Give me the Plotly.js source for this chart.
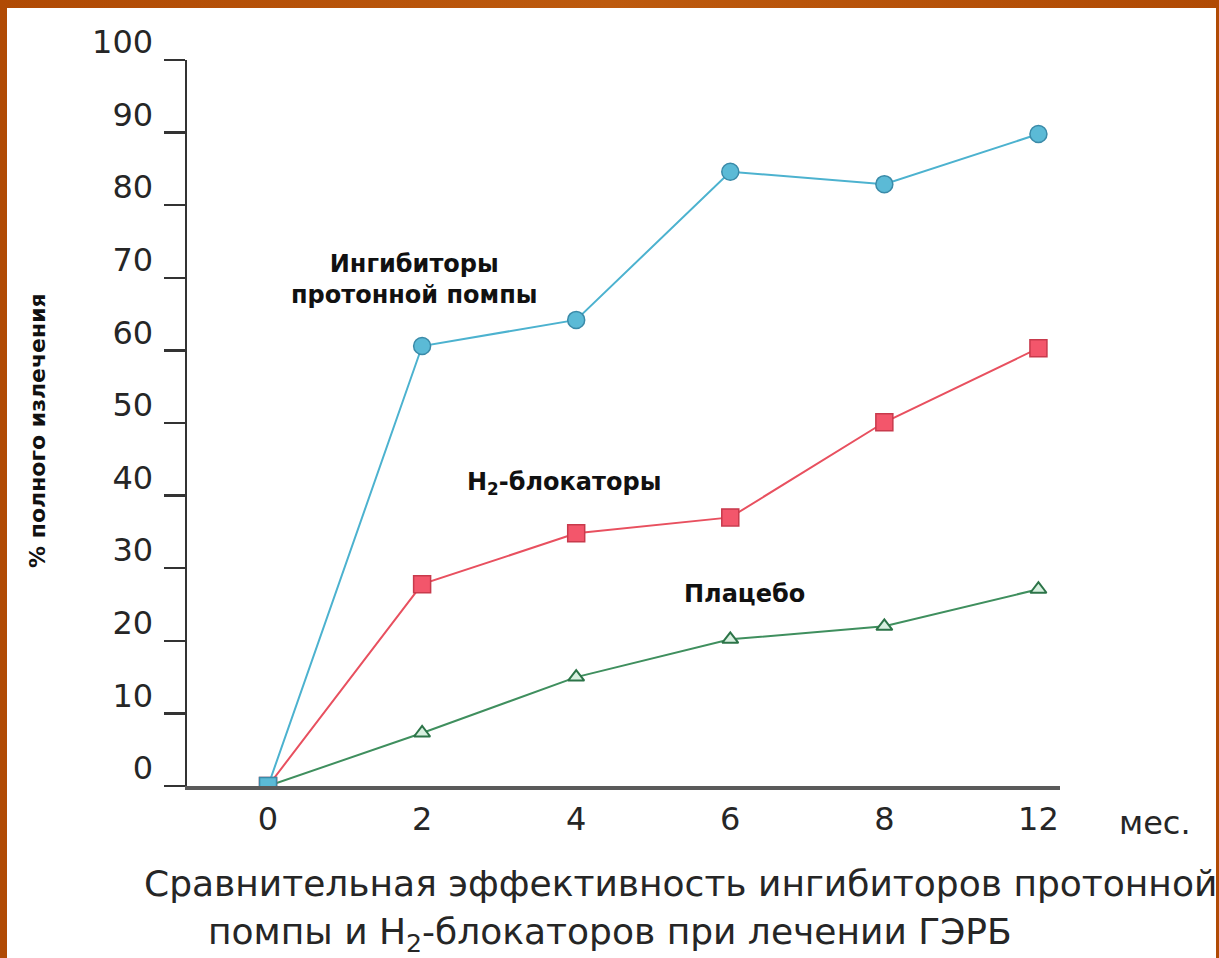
<!DOCTYPE html>
<html>
<head>
<meta charset="utf-8">
<script src="https://cdn.plot.ly/plotly-3.0.1.min.js"></script>
<style>
  html, body { margin:0; padding:0; width:1219px; height:958px; overflow:hidden;
    background: linear-gradient(90deg, #b04a04 0%, #bd5a0e 50%, #b04a04 100%); }
  #chart { position:absolute; left:7px; top:8px; width:1209px; height:950px; }
</style>
</head>
<body>
<div id="chart"></div>
<script>
// ---- data ----
const months = ['0', '2', '4', '6', '8', '12'];
const ppiValues = [0, 60.6, 64.2, 84.6, 82.9, 89.8];      // Ингибиторы протонной помпы
const h2Values = [0, 27.8, 34.8, 37.0, 50.1, 60.3];       // H2-блокаторы
const placeboValues = [0, 7.3, 15.0, 20.2, 22.0, 27.1];   // Плацебо
const yTickValues = [0, 10, 20, 30, 40, 50, 60, 70, 80, 90, 100];
const yTickLabels = ['0', '10', '20', '30', '40', '50', '60', '70', '80', '90', '100'];

const seriesLabels = ['Ингибиторы<br>протонной помпы', 'H<sub>2</sub>-блокаторы', 'Плацебо'];
const yTitle = '% полного излечения';
const xUnit = 'мес.';
const captionLine1 = 'Сравнительная эффективность ингибиторов протонной';
const captionLine2 = 'помпы и H<sub>2</sub>-блокаторов при лечении ГЭРБ';

const FONT = 'DejaVu Sans, Liberation Sans, Arial, sans-serif';
const textColor = '#262626';

const traces = [
  {
    x: months, y: placeboValues, type: 'scatter', mode: 'lines+markers',
    line: {color: '#3f8f5e', width: 2},
    marker: {symbol: 'triangle-up', size: 14, color: '#d8f0e0', line: {color: '#2c7448', width: 2}},
    hoverinfo: 'x+y'
  },
  {
    x: months, y: h2Values, type: 'scatter', mode: 'lines+markers',
    line: {color: '#e8505f', width: 2},
    marker: {symbol: 'square', size: 17, color: '#f3566b', line: {color: '#c83a4c', width: 1.5}},
    hoverinfo: 'x+y'
  },
  {
    x: months, y: ppiValues, type: 'scatter', mode: 'lines+markers',
    line: {color: '#4cb2cf', width: 2},
    marker: {symbol: ['square', 'circle', 'circle', 'circle', 'circle', 'circle'],
             size: 17, color: '#5bbad6', line: {color: '#3a8aa8', width: 1.5}},
    hoverinfo: 'x+y'
  }
];

const annotations = [
  {text: seriesLabels[0], x: 0.95, y: 69.7, xref: 'x', yref: 'y', showarrow: false,
   xanchor: 'center', yanchor: 'middle',
   font: {family: FONT, size: 24, color: '#111', weight: 'bold'}, align: 'center'},
  {text: seriesLabels[1], x: 1.92, y: 41.7, xref: 'x', yref: 'y', showarrow: false,
   xanchor: 'center', yanchor: 'middle',
   font: {family: FONT, size: 24, color: '#111', weight: 'bold'}},
  {text: seriesLabels[2], x: 3.09, y: 26.5, xref: 'x', yref: 'y', showarrow: false,
   xanchor: 'center', yanchor: 'middle',
   font: {family: FONT, size: 24, color: '#111', weight: 'bold'}},
  {text: yTitle, x: -0.171, y: 0.49, xref: 'paper', yref: 'paper', textangle: -90, showarrow: false,
   xanchor: 'center', yanchor: 'middle',
   font: {family: FONT, size: 22, color: '#111', weight: 'bold'}},
  {text: xUnit, x: 1.109, y: -0.051, xref: 'paper', yref: 'paper', showarrow: false,
   xanchor: 'center', yanchor: 'middle',
   font: {family: FONT, size: 32, color: textColor}},
  {text: captionLine1, x: 0.565, y: -0.134, xref: 'paper', yref: 'paper', showarrow: false,
   xanchor: 'center', yanchor: 'middle',
   font: {family: FONT, size: 36, color: textColor}},
  {text: captionLine2, x: 0.485, y: -0.205, xref: 'paper', yref: 'paper', showarrow: false,
   xanchor: 'center', yanchor: 'middle',
   font: {family: FONT, size: 36, color: textColor}}
];

const layout = {
  width: 1209, height: 950,
  margin: {l: 180, r: 156, t: 52, b: 172},
  paper_bgcolor: '#ffffff', plot_bgcolor: '#ffffff',
  showlegend: false,
  xaxis: {
    type: 'category', range: [-0.526, 5.14],
    showgrid: false, zeroline: false,
    showline: true, linecolor: '#5a5a5a', linewidth: 4,
    ticks: '', ticklabelstandoff: 2,
    tickfont: {family: FONT, size: 32, color: textColor}
  },
  yaxis: {
    range: [0, 100], showgrid: false, zeroline: false,
    showline: true, linecolor: '#333', linewidth: 2.5,
    tickmode: 'array', tickvals: yTickValues, ticktext: yTickLabels,
    ticks: 'outside', ticklen: 21, tickwidth: 2.5, tickcolor: '#333',
    ticklabelshift: -18, ticklabelstandoff: 4,
    tickfont: {family: FONT, size: 32, color: textColor}
  },
  annotations: annotations
};

Plotly.newPlot('chart', traces, layout, {displayModeBar: false, staticPlot: true});
</script>
</body>
</html>
